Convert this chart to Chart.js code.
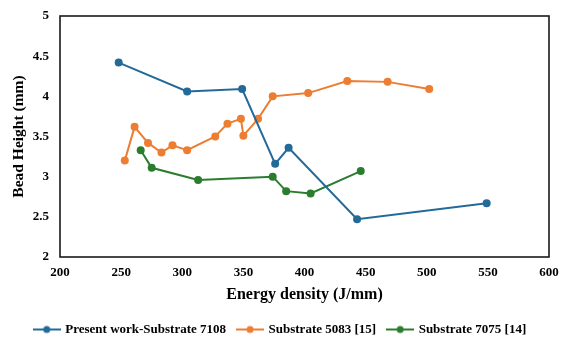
<!DOCTYPE html>
<html>
<head>
<meta charset="utf-8">
<script src="https://cdn.jsdelivr.net/npm/chart.js@4"></script>
<style>
  html, body { margin: 0; padding: 0; background: #fff; }
  #wrap { width: 561px; height: 338px; }
</style>
</head>
<body>
<div id="wrap"><canvas id="chart" width="561" height="338"></canvas></div>
<script>
// values
var presentX = [248, 304, 349, 376, 387, 443, 549];
var presentY = [4.42, 4.06, 4.09, 3.16, 3.36, 2.47, 2.67];

var sub5083X = [253, 261, 272, 283, 292, 304, 327, 337, 348, 350, 362, 374, 403, 435, 468, 502];
var sub5083Y = [3.20, 3.62, 3.42, 3.30, 3.39, 3.33, 3.50, 3.66, 3.72, 3.51, 3.72, 4.00, 4.04, 4.19, 4.18, 4.09];

var sub7075X = [266, 275, 313, 374, 385, 405, 446];
var sub7075Y = [3.33, 3.11, 2.96, 3.00, 2.82, 2.79, 3.07];

var seriesNames = ["Present work-Substrate 7108", "Substrate 5083 [15]", "Substrate 7075 [14]"];
var seriesColors = ["#236a99", "#ed7d31", "#2a7d2e"];

var xTicks = [200, 250, 300, 350, 400, 450, 500, 550, 600];
var yTicks = [2, 2.5, 3, 3.5, 4, 4.5, 5];

function toPoints(xs, ys) {
    return xs.map(function (x, i) { return { x: x, y: ys[i] }; });
}

// little line+dot picture for the legend
function legendMark(color) {
    var c = document.createElement("canvas");
    c.width = 28;
    c.height = 10;
    var g = c.getContext("2d");
    g.strokeStyle = color;
    g.lineWidth = 2;
    g.beginPath();
    g.moveTo(0, 5);
    g.lineTo(28, 5);
    g.stroke();
    g.fillStyle = color;
    g.beginPath();
    g.arc(14, 5, 3.5, 0, Math.PI * 2);
    g.fill();
    return c;
}

var serif = "'Liberation Serif', 'Times New Roman', serif";

var frame = {
    id: "frame",
    beforeInit: function (chart) {
        var lg = chart.legend;
        if (lg) {
            var fit = lg.fit;
            lg.fit = function () {
                fit.call(this);
                this.height = 27;
            };
        }
    },
    afterDatasetsDraw: function (chart) {
        var a = chart.chartArea;
        var ctx = chart.ctx;
        ctx.save();
        ctx.strokeStyle = "#1a1a1a";
        ctx.lineWidth = 1.6;
        ctx.strokeRect(a.left, a.top, a.right - a.left, a.bottom - a.top);
        ctx.restore();
    }
};

var datasets = [
    toPoints(presentX, presentY),
    toPoints(sub5083X, sub5083Y),
    toPoints(sub7075X, sub7075Y)
].map(function (pts, i) {
    return {
        label: seriesNames[i],
        data: pts,
        borderColor: seriesColors[i],
        backgroundColor: seriesColors[i],
        borderWidth: 2,
        pointRadius: 4,
        pointHoverRadius: 4,
        pointBorderWidth: 0,
        showLine: true,
        tension: 0
    };
});

new Chart(document.getElementById("chart"), {
    type: "scatter",
    data: { datasets: datasets },
    plugins: [frame],
    options: {
        responsive: false,
        animation: false,
        layout: { padding: { top: 16, right: 0, left: 0, bottom: 0 } },
        plugins: {
            tooltip: { enabled: false },
            legend: {
                display: true,
                position: "bottom",
                labels: {
                    color: "#000",
                    font: { family: serif, size: 13, weight: "bold" },
                    usePointStyle: true,
                    pointStyleWidth: 24,
                    padding: 12,
                    generateLabels: function (chart) {
                        return chart.data.datasets.map(function (ds, i) {
                            return {
                                text: ds.label,
                                pointStyle: legendMark(seriesColors[i]),
                                fillStyle: seriesColors[i],
                                strokeStyle: seriesColors[i],
                                lineWidth: 0,
                                fontColor: "#000",
                                datasetIndex: i
                            };
                        });
                    }
                }
            }
        },
        scales: {
            x: {
                type: "linear",
                min: 200,
                max: 600,
                afterFit: function (s) {
                    s.height = 54;
                    s.paddingRight = 12;
                },
                afterBuildTicks: function (s) {
                    s.ticks = xTicks.map(function (v) { return { value: v }; });
                },
                grid: { display: false, drawTicks: false },
                border: { display: false },
                ticks: {
                    color: "#000",
                    padding: 8,
                    callback: function (v) { return String(v); },
                    font: { family: serif, size: 13, weight: "bold" }
                },
                title: {
                    display: true,
                    text: "Energy density (J/mm)",
                    color: "#000",
                    padding: { top: 0, bottom: 7 },
                    font: { family: serif, size: 16, weight: "bold" }
                }
            },
            y: {
                type: "linear",
                min: 2,
                max: 5,
                afterFit: function (s) {
                    s.width = 60;
                    s.paddingTop = 0;
                    s.paddingBottom = 0;
                },
                afterBuildTicks: function (s) {
                    s.ticks = yTicks.map(function (v) { return { value: v }; });
                },
                grid: { display: false, drawTicks: false },
                border: { display: false },
                ticks: {
                    color: "#000",
                    padding: 11,
                    callback: function (v) { return String(v); },
                    font: { family: serif, size: 13, weight: "bold" }
                },
                title: {
                    display: true,
                    text: "Bead Height (mm)",
                    color: "#000",
                    padding: { top: 10, bottom: 0 },
                    font: { family: serif, size: 15.5, weight: "bold" }
                }
            }
        }
    }
});
</script>
</body>
</html>
